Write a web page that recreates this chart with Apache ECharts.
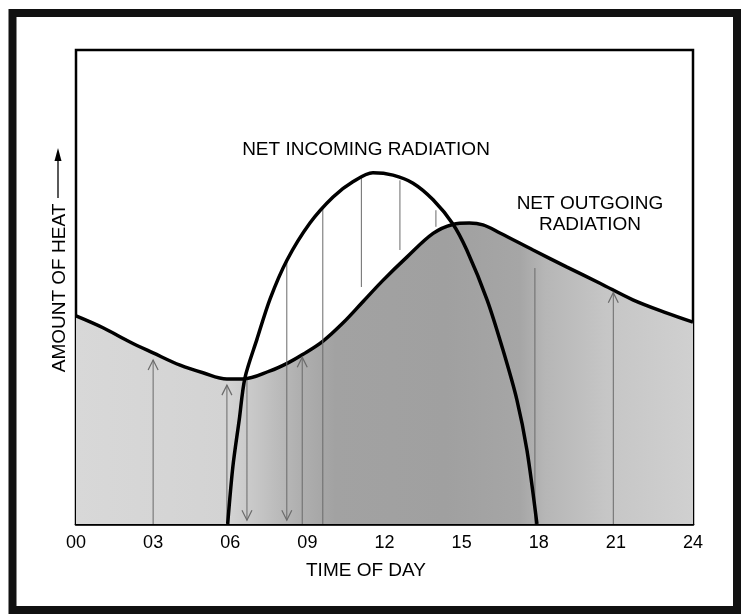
<!DOCTYPE html>
<html><head><meta charset="utf-8">
<script src="https://cdn.jsdelivr.net/npm/echarts@6/dist/echarts.min.js"></script>
<style>html,body{margin:0;padding:0;background:#fff;}#c{width:743px;height:614px;}</style>
</head><body><div id="c"></div>
<script>
// Net outgoing radiation (hour, relative amount of heat)
const outHours  = [0, 1.05, 2.1, 3.0, 4.05, 4.94, 5.87, 6.5, 7.55, 8.25, 8.83, 9.61, 10.38, 11.16, 11.94, 12.87, 13.89, 14.66, 15.3, 15.83, 16.49, 17.78, 19.1, 20.38, 21.66, 22.99, 24];
const outValues = [43.9, 41.4, 38.4, 36.1, 33.5, 31.9, 30.6, 30.6, 32.3, 34.0, 35.8, 38.6, 42.4, 46.9, 51.4, 56.3, 61.3, 63.2, 63.5, 63.1, 61.4, 57.8, 54.2, 50.8, 47.3, 44.5, 42.6];
// Net incoming radiation
const inHours  = [5.9, 6.1, 6.35, 6.57, 7.04, 7.55, 8.21, 9.1, 10.0, 10.77, 11.55, 12.33, 13.11, 13.89, 14.66, 15.2, 15.99, 16.61, 17.15, 17.54, 17.93];
const inValues = [0, 12, 22, 30.8, 39, 47.5, 55.7, 63.5, 69.0, 72.2, 74.1, 73.6, 71.9, 68.4, 63.3, 57.8, 47.3, 36.7, 26.2, 15.6, 0];
// thin vertical guide lines / arrows
const arrowHours = [3.0, 5.87, 6.65, 8.2, 8.8, 9.6, 11.1, 12.6, 14.0, 17.85, 20.9];
const arrowFrom  = [0, 0, 30.4, 55.3, 0, 66.8, 73.0, 72.5, 66.2, 0, 0];
const arrowTo    = [34.6, 29.3, 0.8, 0.8, 35.2, 0, 50.0, 57.8, 62.7, 54.0, 48.8];
const arrowHeads = [1, 1, 1, 1, 1, 0, 0, 0, 0, 0, 1];
const tickLabels = ['00', '03', '06', '09', '12', '15', '18', '21', '24'];

const FONT = '"Liberation Sans", Arial, sans-serif';
const chart = echarts.init(document.getElementById('c'), null, {renderer: 'canvas'});
const option = {
  animation: false,
  backgroundColor: '#fff',
  grid: {left: 76, right: 50, top: 50, bottom: 90, show: true, borderColor: '#000', borderWidth: 2.5, backgroundColor: 'transparent'},
  xAxis: {
    type: 'value', min: 0, max: 24, interval: 3,
    axisLine: {show: true, lineStyle: {color: '#000', width: 2.5}},
    axisTick: {show: false}, splitLine: {show: false},
    axisLabel: {color: '#000', fontSize: 18, fontFamily: FONT, margin: 10,
      formatter: v => tickLabels[Math.round(v / 3)]}
  },
  yAxis: {type: 'value', min: 0, max: 100, axisLine: {show: false}, axisTick: {show: false}, axisLabel: {show: false}, splitLine: {show: false}},
  series: [
    {
      type: 'line', name: 'NET OUTGOING RADIATION', z: 2,
      data: outHours.map((h, i) => [h, outValues[i]]),
      showSymbol: false, smooth: 0.35,
      lineStyle: {color: '#000', width: 3.5},
      areaStyle: {
        opacity: 1,
        color: new echarts.graphic.LinearGradient(0, 0, 1, 0, [
          {offset: 0, color: '#d8d8d8'},
          {offset: 0.25, color: '#d3d3d3'},
          {offset: 0.3, color: '#c4c4c4'},
          {offset: 0.36, color: '#b0b0b0'},
          {offset: 0.42, color: '#a2a2a2'},
          {offset: 0.6, color: '#a0a0a0'},
          {offset: 0.72, color: '#a6a6a6'},
          {offset: 0.76, color: '#b6b6b6'},
          {offset: 0.86, color: '#c6c6c6'},
          {offset: 1, color: '#d0d0d0'}
        ])
      }
    },
    {
      type: 'custom', z: 3, silent: true,
      data: arrowHours.map((h, i) => [h, arrowFrom[i], arrowTo[i], arrowHeads[i]]),
      encode: {x: 0, y: [1, 2]},
      renderItem: function (params, api) {
        const h = api.value(0), a = api.value(1), b = api.value(2), head = api.value(3);
        const p0 = api.coord([h, a]), p1 = api.coord([h, b]);
        const children = [{type: 'line', shape: {x1: p0[0], y1: p0[1], x2: p1[0], y2: p1[1]}, style: {stroke: '#6a6a6a', lineWidth: 1}}];
        if (head) {
          const dir = p1[1] < p0[1] ? 1 : -1;
          children.push({type: 'polyline', shape: {points: [[p1[0] - 5, p1[1] + dir * 10], [p1[0], p1[1]], [p1[0] + 5, p1[1] + dir * 10]]},
            style: {stroke: '#6a6a6a', fill: null, lineWidth: 1.2}});
        }
        return {type: 'group', children: children};
      }
    },
    {
      type: 'line', name: 'NET INCOMING RADIATION', z: 4,
      data: inHours.map((h, i) => [h, inValues[i]]),
      showSymbol: false, smooth: 0.3,
      lineStyle: {color: '#000', width: 3.5}
    }
  ],
  graphic: [
    {type: 'rect', shape: {x: 12.5, y: 13, width: 724.5, height: 597}, style: {fill: 'none', stroke: '#111', lineWidth: 8}, z: 10},
    {type: 'text', x: 366, y: 150, style: {text: 'NET INCOMING RADIATION', font: '19px ' + FONT, fill: '#000', align: 'center', verticalAlign: 'middle'}, z: 10},
    {type: 'text', x: 590, y: 214, style: {text: 'NET OUTGOING\nRADIATION', font: '19px ' + FONT, fill: '#000', align: 'center', verticalAlign: 'middle', lineHeight: 21}, z: 10},
    {type: 'text', x: 366, y: 571, style: {text: 'TIME OF DAY', font: '19px ' + FONT, fill: '#000', align: 'center', verticalAlign: 'middle'}, z: 10},
    {type: 'text', x: 60, y: 288, rotation: Math.PI / 2, style: {text: 'AMOUNT OF HEAT', font: '19px ' + FONT, fill: '#000', align: 'center', verticalAlign: 'middle'}, z: 10},
    {type: 'line', shape: {x1: 58, y1: 198, x2: 58, y2: 158}, style: {stroke: '#000', lineWidth: 1.3}, z: 10},
    {type: 'polygon', shape: {points: [[58, 148], [54.5, 161], [61.5, 161]]}, style: {fill: '#000'}, z: 10}
  ]
};
chart.setOption(option);
</script>
</body></html>
